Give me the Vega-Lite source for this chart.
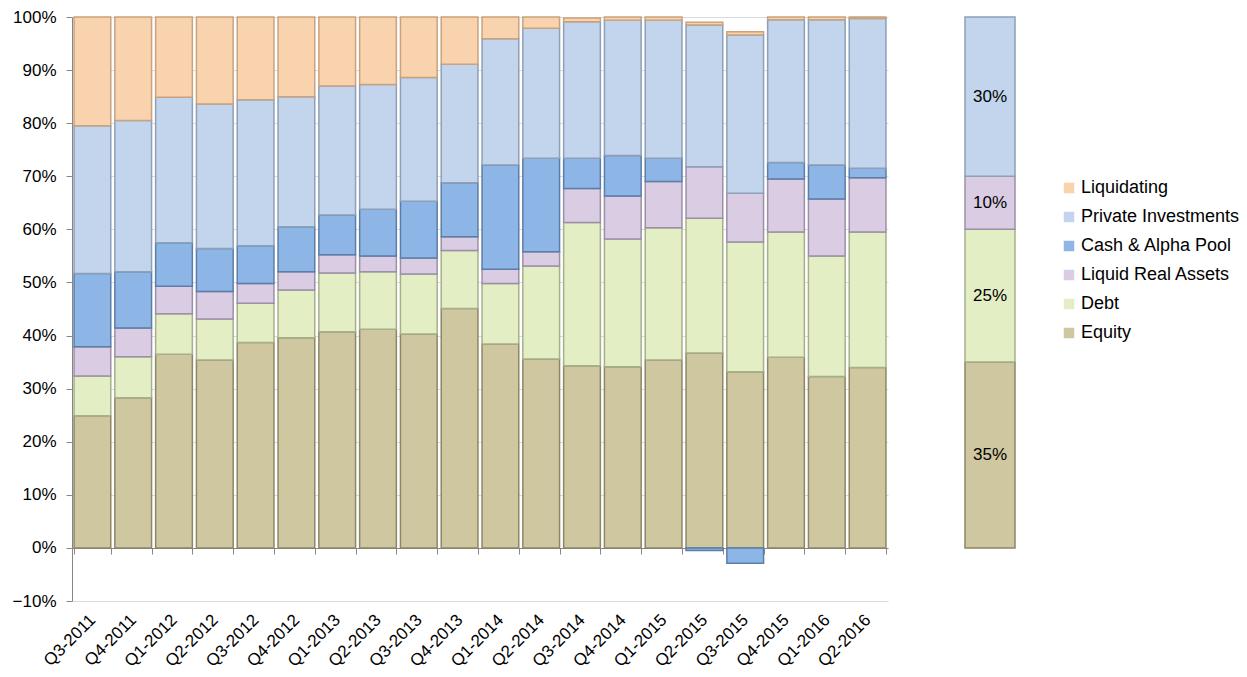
{
  "$schema": "https://vega.github.io/schema/vega-lite/v6.json",
  "background": "white",
  "padding": {"left": 12, "top": 8, "right": 0, "bottom": 0},
  "config": {
    "font": "Liberation Sans",
    "view": {"stroke": null},
    "axis": {"labelColor": "#000000", "labelFontSize": 17, "title": null, "domainColor": "#878787", "tickColor": "#878787"},
    "legend": {"labelFontSize": 18, "labelColor": "#000000", "symbolType": "square", "symbolSize": 110, "symbolStrokeWidth": 0, "rowPadding": 11, "labelOffset": 3}
  },
  "datasets": {
    "hist": [
      {"q": "Q3-2011", "cat": "Equity", "v": 0.249}, {"q": "Q3-2011", "cat": "Debt", "v": 0.075}, {"q": "Q3-2011", "cat": "Liquid Real Assets", "v": 0.055}, {"q": "Q3-2011", "cat": "Cash & Alpha Pool", "v": 0.138}, {"q": "Q3-2011", "cat": "Private Investments", "v": 0.278}, {"q": "Q3-2011", "cat": "Liquidating", "v": 0.205},
      {"q": "Q4-2011", "cat": "Equity", "v": 0.283}, {"q": "Q4-2011", "cat": "Debt", "v": 0.077}, {"q": "Q4-2011", "cat": "Liquid Real Assets", "v": 0.054}, {"q": "Q4-2011", "cat": "Cash & Alpha Pool", "v": 0.106}, {"q": "Q4-2011", "cat": "Private Investments", "v": 0.285}, {"q": "Q4-2011", "cat": "Liquidating", "v": 0.195},
      {"q": "Q1-2012", "cat": "Equity", "v": 0.365}, {"q": "Q1-2012", "cat": "Debt", "v": 0.076}, {"q": "Q1-2012", "cat": "Liquid Real Assets", "v": 0.052}, {"q": "Q1-2012", "cat": "Cash & Alpha Pool", "v": 0.082}, {"q": "Q1-2012", "cat": "Private Investments", "v": 0.274}, {"q": "Q1-2012", "cat": "Liquidating", "v": 0.151},
      {"q": "Q2-2012", "cat": "Equity", "v": 0.354}, {"q": "Q2-2012", "cat": "Debt", "v": 0.077}, {"q": "Q2-2012", "cat": "Liquid Real Assets", "v": 0.052}, {"q": "Q2-2012", "cat": "Cash & Alpha Pool", "v": 0.081}, {"q": "Q2-2012", "cat": "Private Investments", "v": 0.272}, {"q": "Q2-2012", "cat": "Liquidating", "v": 0.164},
      {"q": "Q3-2012", "cat": "Equity", "v": 0.387}, {"q": "Q3-2012", "cat": "Debt", "v": 0.074}, {"q": "Q3-2012", "cat": "Liquid Real Assets", "v": 0.037}, {"q": "Q3-2012", "cat": "Cash & Alpha Pool", "v": 0.071}, {"q": "Q3-2012", "cat": "Private Investments", "v": 0.275}, {"q": "Q3-2012", "cat": "Liquidating", "v": 0.156},
      {"q": "Q4-2012", "cat": "Equity", "v": 0.396}, {"q": "Q4-2012", "cat": "Debt", "v": 0.09}, {"q": "Q4-2012", "cat": "Liquid Real Assets", "v": 0.034}, {"q": "Q4-2012", "cat": "Cash & Alpha Pool", "v": 0.085}, {"q": "Q4-2012", "cat": "Private Investments", "v": 0.245}, {"q": "Q4-2012", "cat": "Liquidating", "v": 0.15},
      {"q": "Q1-2013", "cat": "Equity", "v": 0.407}, {"q": "Q1-2013", "cat": "Debt", "v": 0.111}, {"q": "Q1-2013", "cat": "Liquid Real Assets", "v": 0.034}, {"q": "Q1-2013", "cat": "Cash & Alpha Pool", "v": 0.075}, {"q": "Q1-2013", "cat": "Private Investments", "v": 0.243}, {"q": "Q1-2013", "cat": "Liquidating", "v": 0.13},
      {"q": "Q2-2013", "cat": "Equity", "v": 0.412}, {"q": "Q2-2013", "cat": "Debt", "v": 0.108}, {"q": "Q2-2013", "cat": "Liquid Real Assets", "v": 0.03}, {"q": "Q2-2013", "cat": "Cash & Alpha Pool", "v": 0.088}, {"q": "Q2-2013", "cat": "Private Investments", "v": 0.235}, {"q": "Q2-2013", "cat": "Liquidating", "v": 0.127},
      {"q": "Q3-2013", "cat": "Equity", "v": 0.403}, {"q": "Q3-2013", "cat": "Debt", "v": 0.113}, {"q": "Q3-2013", "cat": "Liquid Real Assets", "v": 0.03}, {"q": "Q3-2013", "cat": "Cash & Alpha Pool", "v": 0.107}, {"q": "Q3-2013", "cat": "Private Investments", "v": 0.233}, {"q": "Q3-2013", "cat": "Liquidating", "v": 0.114},
      {"q": "Q4-2013", "cat": "Equity", "v": 0.451}, {"q": "Q4-2013", "cat": "Debt", "v": 0.109}, {"q": "Q4-2013", "cat": "Liquid Real Assets", "v": 0.026}, {"q": "Q4-2013", "cat": "Cash & Alpha Pool", "v": 0.102}, {"q": "Q4-2013", "cat": "Private Investments", "v": 0.223}, {"q": "Q4-2013", "cat": "Liquidating", "v": 0.089},
      {"q": "Q1-2014", "cat": "Equity", "v": 0.384}, {"q": "Q1-2014", "cat": "Debt", "v": 0.114}, {"q": "Q1-2014", "cat": "Liquid Real Assets", "v": 0.027}, {"q": "Q1-2014", "cat": "Cash & Alpha Pool", "v": 0.196}, {"q": "Q1-2014", "cat": "Private Investments", "v": 0.238}, {"q": "Q1-2014", "cat": "Liquidating", "v": 0.041},
      {"q": "Q2-2014", "cat": "Equity", "v": 0.356}, {"q": "Q2-2014", "cat": "Debt", "v": 0.175}, {"q": "Q2-2014", "cat": "Liquid Real Assets", "v": 0.027}, {"q": "Q2-2014", "cat": "Cash & Alpha Pool", "v": 0.176}, {"q": "Q2-2014", "cat": "Private Investments", "v": 0.245}, {"q": "Q2-2014", "cat": "Liquidating", "v": 0.021},
      {"q": "Q3-2014", "cat": "Equity", "v": 0.343}, {"q": "Q3-2014", "cat": "Debt", "v": 0.27}, {"q": "Q3-2014", "cat": "Liquid Real Assets", "v": 0.064}, {"q": "Q3-2014", "cat": "Cash & Alpha Pool", "v": 0.057}, {"q": "Q3-2014", "cat": "Private Investments", "v": 0.257}, {"q": "Q3-2014", "cat": "Liquidating", "v": 0.007},
      {"q": "Q4-2014", "cat": "Equity", "v": 0.341}, {"q": "Q4-2014", "cat": "Debt", "v": 0.241}, {"q": "Q4-2014", "cat": "Liquid Real Assets", "v": 0.081}, {"q": "Q4-2014", "cat": "Cash & Alpha Pool", "v": 0.076}, {"q": "Q4-2014", "cat": "Private Investments", "v": 0.255}, {"q": "Q4-2014", "cat": "Liquidating", "v": 0.006},
      {"q": "Q1-2015", "cat": "Equity", "v": 0.354}, {"q": "Q1-2015", "cat": "Debt", "v": 0.249}, {"q": "Q1-2015", "cat": "Liquid Real Assets", "v": 0.087}, {"q": "Q1-2015", "cat": "Cash & Alpha Pool", "v": 0.044}, {"q": "Q1-2015", "cat": "Private Investments", "v": 0.26}, {"q": "Q1-2015", "cat": "Liquidating", "v": 0.006},
      {"q": "Q2-2015", "cat": "Equity", "v": 0.367}, {"q": "Q2-2015", "cat": "Debt", "v": 0.254}, {"q": "Q2-2015", "cat": "Liquid Real Assets", "v": 0.097}, {"q": "Q2-2015", "cat": "Cash & Alpha Pool", "v": -0.005}, {"q": "Q2-2015", "cat": "Private Investments", "v": 0.267}, {"q": "Q2-2015", "cat": "Liquidating", "v": 0.005},
      {"q": "Q3-2015", "cat": "Equity", "v": 0.332}, {"q": "Q3-2015", "cat": "Debt", "v": 0.244}, {"q": "Q3-2015", "cat": "Liquid Real Assets", "v": 0.092}, {"q": "Q3-2015", "cat": "Cash & Alpha Pool", "v": -0.029}, {"q": "Q3-2015", "cat": "Private Investments", "v": 0.298}, {"q": "Q3-2015", "cat": "Liquidating", "v": 0.006},
      {"q": "Q4-2015", "cat": "Equity", "v": 0.359}, {"q": "Q4-2015", "cat": "Debt", "v": 0.236}, {"q": "Q4-2015", "cat": "Liquid Real Assets", "v": 0.1}, {"q": "Q4-2015", "cat": "Cash & Alpha Pool", "v": 0.031}, {"q": "Q4-2015", "cat": "Private Investments", "v": 0.269}, {"q": "Q4-2015", "cat": "Liquidating", "v": 0.005},
      {"q": "Q1-2016", "cat": "Equity", "v": 0.323}, {"q": "Q1-2016", "cat": "Debt", "v": 0.227}, {"q": "Q1-2016", "cat": "Liquid Real Assets", "v": 0.107}, {"q": "Q1-2016", "cat": "Cash & Alpha Pool", "v": 0.064}, {"q": "Q1-2016", "cat": "Private Investments", "v": 0.274}, {"q": "Q1-2016", "cat": "Liquidating", "v": 0.005},
      {"q": "Q2-2016", "cat": "Equity", "v": 0.34}, {"q": "Q2-2016", "cat": "Debt", "v": 0.255}, {"q": "Q2-2016", "cat": "Liquid Real Assets", "v": 0.102}, {"q": "Q2-2016", "cat": "Cash & Alpha Pool", "v": 0.018}, {"q": "Q2-2016", "cat": "Private Investments", "v": 0.282}, {"q": "Q2-2016", "cat": "Liquidating", "v": 0.003}
    ],
    "target": [
      {"g": "Target", "cat": "Equity", "v": 0.35},
      {"g": "Target", "cat": "Debt", "v": 0.25},
      {"g": "Target", "cat": "Liquid Real Assets", "v": 0.10},
      {"g": "Target", "cat": "Private Investments", "v": 0.30}
    ]
  },
  "spacing": 76,
  "hconcat": [
    {
      "width": 816,
      "height": 584,
      "data": {"name": "hist"},
      "transform": [
        {"calculate": "indexof(['Equity','Debt','Liquid Real Assets','Cash & Alpha Pool','Private Investments','Liquidating'], datum.cat)", "as": "ord"}
      ],
      "mark": {"type": "bar", "strokeWidth": 1.5},
      "encoding": {
        "x": {
          "field": "q", "type": "nominal", "sort": null,
          "scale": {"paddingInner": 0.1, "paddingOuter": 0.05},
          "axis": {"offset": -53, "labelAngle": -45, "labelAlign": "right", "labelBaseline": "middle", "labelPadding": 63, "labelFontSize": 17, "tickBand": "extent", "tickSize": 6, "grid": false}
        },
        "y": {
          "field": "v", "type": "quantitative", "stack": "zero",
          "scale": {"domain": [-0.1, 1], "nice": false},
          "axis": {"values": [-0.1, 0, 0.1, 0.2, 0.3, 0.4, 0.5, 0.6, 0.7, 0.8, 0.9, 1], "format": ".0%", "grid": true, "gridColor": "#D9D9D9", "tickSize": 6, "labelPadding": 10, "minExtent": 60, "maxExtent": 60}
        },
        "order": {"field": "ord", "type": "quantitative", "sort": "ascending"},
        "color": {
          "field": "cat", "type": "nominal",
          "sort": ["Liquidating", "Private Investments", "Cash & Alpha Pool", "Liquid Real Assets", "Debt", "Equity"],
          "scale": {"range": ["#F9D3AD", "#C3D5EC", "#8DB6E6", "#D9CCE3", "#E3EEC4", "#CEC79F"]},
          "legend": {"title": null, "orient": "none", "legendX": 988, "legendY": 162}
        },
        "stroke": {
          "field": "cat", "type": "nominal",
          "sort": ["Liquidating", "Private Investments", "Cash & Alpha Pool", "Liquid Real Assets", "Debt", "Equity"],
          "scale": {"range": ["#C9A27E", "#8DA0B8", "#5B7EA8", "#9C90A8", "#A6B08B", "#8C8767"]},
          "legend": null
        }
      }
    },
    {
      "width": 50,
      "height": 584,
      "data": {"name": "target"},
      "transform": [
        {"calculate": "indexof(['Equity','Debt','Liquid Real Assets','Cash & Alpha Pool','Private Investments','Liquidating'], datum.cat)", "as": "ord"}
      ],
      "layer": [
        {
          "mark": {"type": "bar", "strokeWidth": 1.5},
          "encoding": {
            "x": {"field": "g", "type": "nominal", "axis": null, "scale": {"paddingInner": 0, "paddingOuter": 0}},
            "y": {"field": "v", "type": "quantitative", "stack": "zero", "scale": {"domain": [-0.1, 1], "nice": false}, "axis": null},
            "order": {"field": "ord", "type": "quantitative", "sort": "ascending"},
            "color": {
              "field": "cat", "type": "nominal",
              "sort": ["Liquidating", "Private Investments", "Cash & Alpha Pool", "Liquid Real Assets", "Debt", "Equity"]
            },
            "stroke": {
              "field": "cat", "type": "nominal",
              "sort": ["Liquidating", "Private Investments", "Cash & Alpha Pool", "Liquid Real Assets", "Debt", "Equity"],
              "legend": null
            }
          }
        },
        {
          "transform": [
            {"stack": "v", "groupby": ["g"], "sort": [{"field": "ord", "order": "ascending"}], "as": ["v0", "v1"]},
            {"calculate": "(datum.v0 + datum.v1) / 2", "as": "mid"}
          ],
          "mark": {"type": "text", "fontSize": 17, "color": "#000000"},
          "encoding": {
            "x": {"field": "g", "type": "nominal", "axis": null},
            "y": {"field": "mid", "type": "quantitative", "axis": null},
            "text": {"field": "v", "type": "quantitative", "format": ".0%"}
          }
        }
      ]
    }
  ]
}
